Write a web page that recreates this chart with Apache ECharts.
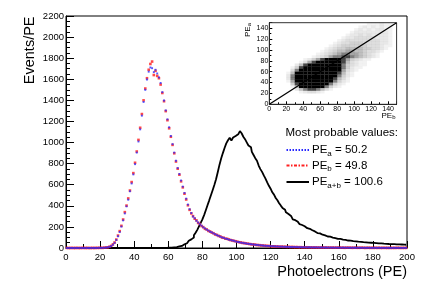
<!DOCTYPE html>
<html><head><meta charset="utf-8">
<script src="https://cdn.jsdelivr.net/npm/echarts@6/dist/echarts.min.js"></script>
<style>html,body{margin:0;padding:0;background:#fff}#c{width:437px;height:289px}</style>
</head><body><div id="c"></div>
<script>
// ---- main histograms: bins of width 1 PE, bin i covers [i, i+1) ----
const peA = [
0,0,1,0,0,1,0,0,1,0, 0,1,0,0,1,0,1,0,1,2, 1,2,3,4,7,11,18,31,49,76,
112,152,203,262,328,395,458,538,612,698, 795,905,1010,1125,1255,1385,1500,1598,1672,1712,
1705,1668,1690,1655,1618,1565,1478,1398,1305,1220, 1145,1062,985,905,828,758,702,640,582,522,
468,412,368,332,298,282,258,242,226,212, 196,186,174,166,154,149,138,131,121,116,
107,101,96,89,86,79,77,71,69,62, 58,56,51,49,45,44,40,39,35,34,
32,30,29,26,25,23,22,20,20,18, 17,17,15,15,14,13,13,12,11,11,
10,10,9,10,9,8,8,8,7,7, 7,6,7,6,6,5,6,5,5,5,
5,4,5,4,4,4,4,3,4,3, 3,3,4,3,3,3,2,3,3,2,
2,3,2,2,2,2,2,2,2,1, 2,2,1,2,1,2,1,1,2,1, 1,1,2,1,1,1,1,1,1,1];
const peB = [
1,0,0,1,0,0,1,0,0,1, 1,0,1,0,0,1,0,1,1,1, 2,1,3,5,6,12,20,34,52,80,
118,160,210,270,340,402,470,545,625,710, 808,915,1025,1140,1270,1400,1512,1610,1690,1745,
1768,1640,1680,1632,1610,1550,1470,1392,1298,1212, 1135,1055,978,898,820,752,695,632,575,515,
460,405,362,328,302,278,262,238,228,208, 198,182,176,162,157,146,140,128,124,114,
110,99,97,88,87,81,75,72,67,64, 60,55,53,48,47,43,41,38,36,33,
33,29,28,27,24,24,21,21,19,19, 16,16,16,14,14,12,13,11,12,10,
11,9,10,9,8,9,7,8,7,7, 6,7,6,6,5,6,5,5,4,5,
4,5,4,4,4,3,4,3,3,4, 3,3,3,2,3,3,3,2,2,3,
2,2,2,3,2,1,2,2,1,2, 1,2,1,2,1,1,2,1,1,1, 1,1,1,1,2,1,1,1,1,1];
const peAB = [
0,0,0,0,0,0,0,0,0,0, 0,0,0,0,0,0,0,0,0,0, 0,0,0,0,0,0,0,0,0,0,
0,0,0,0,0,0,0,0,0,0, 0,0,0,0,0,0,0,0,0,0, 0,0,0,1,0,1,1,2,2,2,
3,3,5,6,8,11,15,20,27,35, 45,56,68,82,100,120,145,172,205,238,
272,312,358,405,452,500,548,598,652,718, 788,848,900,948,992,1022,1045,1018,1048,1062,
1078,1060,1108,1088,1055,1032,1002,972,955,912, 882,852,828,782,748,722,688,658,622,590,
562,528,506,474,452,425,402,380,362,338, 322,304,290,272,264,248,240,226,218,206,
198,188,182,172,168,157,152,142,139,131, 126,119,116,109,107,101,99,94,92,87,
86,82,80,76,76,71,70,67,66,63, 62,60,59,57,56,54,53,51,50,48,
48,46,45,44,43,41,41,40,39,38, 37,37,36,35,35,34,33,33,32,31];

// ---- inset scatter PE_a vs PE_b as a density map, 5 PE cells ----
// each row: [first x-cell, density digits 0..9], rows from y cell 29 (top) down to 4
const densTopRow = 29;
const densityRows = [
[23,"111211"],[21,"12121211"],[20,"121212211"],[19,"1222222221"],
[18,"12232322221"],[17,"122333332221"],[16,"1233333333221"],[15,"12334443333221"],
[14,"123444444333211"],[13,"1234455554433210"],[12,"12345566554332100"],[11,"123456776654321"],
[10,"1234677887654321"],[8,"1246899998643211"],[7,"1368999999853211"],[6,"25899999999743211"],
[5,"14899999999974211"],[5,"3799999999996321"],[4,"1599999999998521"],[4,"2799999999997421"],
[4,"279999999998531"],[4,"169999999997421"],[5,"4899999997421"],[5,"159999997421"],
[6,"257887531"],[7,"123321"]];
const densCell = 5;
const densShade = [0, 0.05, 0.09, 0.13, 0.18, 0.25, 0.35, 0.5, 0.72, 1];
const diagLine = [[0,0],[150,150]];

const mpvA = "50.2", mpvB = "49.8", mpvAB = "100.6";

const FONT = "'Liberation Sans', Arial, Helvetica, sans-serif";
const binData = arr => arr.map((v, i) => [i + 0.5, v]);

const cloud = [];
densityRows.forEach((r, k) => {
  const yc = densTopRow - k;
  const s = r[1];
  for (let j = 0; j < s.length; j++) {
    const d = +s[j];
    if (d > 0) cloud.push({value: [(r[0] + j) * densCell + densCell / 2, yc * densCell + densCell / 2],
      itemStyle: {opacity: densShade[d]}});
  }
});

const chart = echarts.init(document.getElementById('c'), null, {renderer: 'canvas'});
const axisCommon = (fs) => ({
  axisLine: {show: true, lineStyle: {color: '#000', width: 1}},
  splitLine: {show: false},
  axisLabel: {color: '#000', fontFamily: FONT, fontSize: fs, formatter: v => String(v)},
});
const richSub = (fs, sfs, lh) => ({
  n: {fontSize: fs, fontFamily: FONT, color: '#000', lineHeight: lh, verticalAlign: 'middle'},
  s: {fontSize: sfs, fontFamily: FONT, color: '#000', lineHeight: sfs, verticalAlign: 'bottom'}
});

chart.setOption({
  animation: false,
  backgroundColor: '#fff',
  grid: [
    {left: 66, right: 30, top: 16, bottom: 41, show: true, borderColor: '#000', borderWidth: 1},
    {left: 269.3, top: 22.7, width: 127.3, height: 81.6, show: true, borderColor: '#333', borderWidth: 1, z: 5}
  ],
  xAxis: [
    Object.assign(axisCommon(9.5), {gridIndex: 0, type: 'value', min: 0, max: 200, interval: 20,
      axisTick: {inside: true, length: 7, lineStyle: {color: '#000'}},
      minorTick: {show: true, splitNumber: 2, length: 4, lineStyle: {color: '#000'}},
      axisLabel: Object.assign(axisCommon(9.5).axisLabel, {margin: 4})}),
    Object.assign(axisCommon(7), {gridIndex: 1, type: 'value', min: 0, max: 150, interval: 20,
      axisTick: {inside: true, length: 3, lineStyle: {color: '#000'}},
      minorTick: {show: true, splitNumber: 2, length: 2, lineStyle: {color: '#000'}},
      axisLabel: Object.assign(axisCommon(7).axisLabel, {margin: 1, showMaxLabel: false})})
  ],
  yAxis: [
    Object.assign(axisCommon(9.5), {gridIndex: 0, type: 'value', min: 0, max: 2200, interval: 200,
      axisTick: {inside: true, length: 8, lineStyle: {color: '#000'}},
      minorTick: {show: true, splitNumber: 4, length: 4, lineStyle: {color: '#000'}},
      axisLabel: Object.assign(axisCommon(9.5).axisLabel, {margin: 2})}),
    Object.assign(axisCommon(7), {gridIndex: 1, type: 'value', min: 0, max: 150, interval: 20,
      axisTick: {inside: true, length: 3, lineStyle: {color: '#000'}},
      minorTick: {show: true, splitNumber: 2, length: 2, lineStyle: {color: '#000'}},
      axisLabel: Object.assign(axisCommon(7).axisLabel, {margin: 1, showMaxLabel: false})})
  ],
  series: [
    {type: 'line', name: 'PE_a+b', xAxisIndex: 0, yAxisIndex: 0, data: binData(peAB), step: 'middle',
      showSymbol: false, symbol: 'none', lineStyle: {color: '#000', width: 1.8}, z: 3, silent: true},
    {type: 'scatter', name: 'PE_b', xAxisIndex: 0, yAxisIndex: 0, data: binData(peB), symbol: 'rect',
      symbolSize: 2.6, itemStyle: {color: '#ff1a1a'}, z: 4, silent: true},
    {type: 'scatter', name: 'PE_a', xAxisIndex: 0, yAxisIndex: 0, data: binData(peA), symbol: 'rect',
      symbolSize: 1.9, itemStyle: {color: '#2a2aff'}, z: 4, silent: true},
    {type: 'scatter', xAxisIndex: 1, yAxisIndex: 1, data: cloud, symbol: 'rect', symbolSize: [4.4, 2.9],
      itemStyle: {color: '#000'}, z: 6, silent: true},
    {type: 'line', xAxisIndex: 1, yAxisIndex: 1, data: diagLine, symbol: 'none',
      lineStyle: {color: '#000', width: 1.3}, z: 7, silent: true}
  ],
  graphic: [
    {type: 'text', x: 30, y: 16.5, rotation: Math.PI / 2, z: 10,
      style: {text: 'Events/PE', fontSize: 14.5, fontFamily: FONT, fill: '#000', align: 'right', verticalAlign: 'middle'}},
    {type: 'text', x: 407, y: 272, z: 10,
      style: {text: 'Photoelectrons (PE)', fontSize: 14.5, fontFamily: FONT, fill: '#000', align: 'right', verticalAlign: 'middle'}},
    {type: 'text', x: 285.5, y: 133, z: 10,
      style: {text: 'Most probable values:', fontSize: 11.5, fontFamily: FONT, fill: '#000', align: 'left', verticalAlign: 'middle'}},
    {type: 'line', z: 10, shape: {x1: 286.5, y1: 150, x2: 309, y2: 150},
      style: {stroke: '#2626ff', lineWidth: 2, lineDash: [1.5, 1.5]}},
    {type: 'line', z: 10, shape: {x1: 286.5, y1: 165.5, x2: 309, y2: 165.5},
      style: {stroke: '#ff2020', lineWidth: 2, lineDash: [3, 1.5, 1.5, 1.5]}},
    {type: 'line', z: 10, shape: {x1: 286.5, y1: 182, x2: 309, y2: 182},
      style: {stroke: '#000', lineWidth: 2}},
    {type: 'text', x: 312, y: 150, z: 10,
      style: {text: '{n|PE}{s|a}{n| = ' + mpvA + '}', rich: richSub(11.5, 8, 15), align: 'left', verticalAlign: 'middle'}},
    {type: 'text', x: 312, y: 165.5, z: 10,
      style: {text: '{n|PE}{s|b}{n| = ' + mpvB + '}', rich: richSub(11.5, 8, 15), align: 'left', verticalAlign: 'middle'}},
    {type: 'text', x: 312, y: 182, z: 10,
      style: {text: '{n|PE}{s|a+b}{n| = ' + mpvAB + '}', rich: richSub(11.5, 8, 15), align: 'left', verticalAlign: 'middle'}},
    {type: 'text', x: 381.5, y: 115.5, z: 10,
      style: {text: '{n|PE}{s|b}', rich: richSub(8, 6, 10), align: 'left', verticalAlign: 'middle'}},
    {type: 'text', x: 247.5, y: 37, rotation: Math.PI / 2, z: 10,
      style: {text: '{n|PE}{s|a}', rich: richSub(8, 6, 10), align: 'left', verticalAlign: 'middle'}}
  ]
});
</script></body></html>
